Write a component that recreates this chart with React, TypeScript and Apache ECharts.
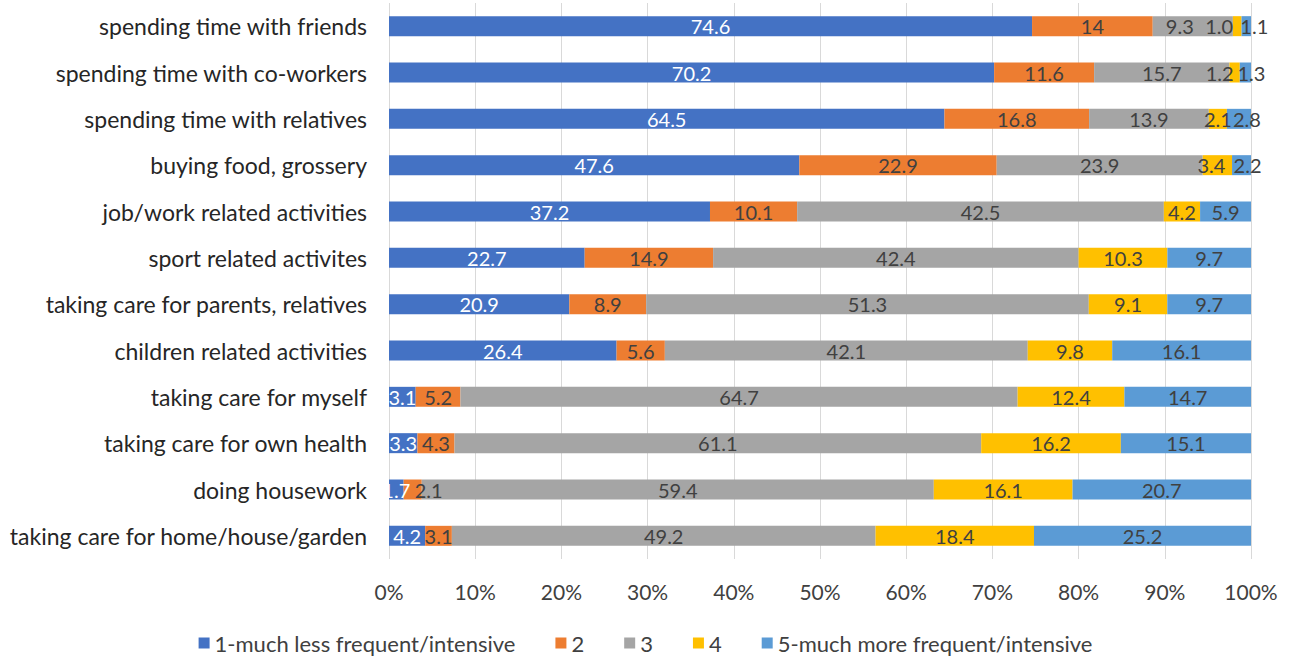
import React, { useEffect, useRef } from "react";
import * as echarts from "echarts";

const categories = [
  "spending time with friends",
  "spending time with co-workers",
  "spending time with relatives",
  "buying food, grossery",
  "job/work related activities",
  "sport related activites",
  "taking care for parents, relatives",
  "children related activities",
  "taking care for myself",
  "taking care for own health",
  "doing housework",
  "taking care for home/house/garden",
];

const seriesNames = [
  "1-much less frequent/intensive",
  "2",
  "3",
  "4",
  "5-much more frequent/intensive",
];

const s1 = [74.6, 70.2, 64.5, 47.6, 37.2, 22.7, 20.9, 26.4, 3.1, 3.3, 1.7, 4.2];
const s2 = [14, 11.6, 16.8, 22.9, 10.1, 14.9, 8.9, 5.6, 5.2, 4.3, 2.1, 3.1];
const s3 = [9.3, 15.7, 13.9, 23.9, 42.5, 42.4, 51.3, 42.1, 64.7, 61.1, 59.4, 49.2];
const s4 = [1.0, 1.2, 2.1, 3.4, 4.2, 10.3, 9.1, 9.8, 12.4, 16.2, 16.1, 18.4];
const s5 = [1.1, 1.3, 2.8, 2.2, 5.9, 9.7, 9.7, 16.1, 14.7, 15.1, 20.7, 25.2];

const colors = ["#4472C4", "#ED7D31", "#A5A5A5", "#FFC000", "#5B9BD5"];
const labelColors = ["#ffffff", "#404040", "#404040", "#404040", "#404040"];

// label nudges (px) for crowded small segments: "series-row" -> dx
const labelNudge: Record<string, number> = {
  "2-0": -13,
  "3-0": -18,
  "4-0": 8,
  "3-1": -15,
  "4-1": 6,
  "4-2": 8,
  "3-3": -6,
  "4-3": 6,
  "1-10": 16,
};

const FONT = "Lato, 'Noto Sans', sans-serif";

export default function App() {
  const ref = useRef<HTMLDivElement>(null);
  useEffect(() => {
    document.body.style.margin = "0";
    if (!ref.current) return;
    const chart = echarts.init(ref.current, undefined, { renderer: "svg" });
    const all = [s1, s2, s3, s4, s5];
    const totals = categories.map((_, i) => all.reduce((a, s) => a + s[i], 0));
    const series = all.map((arr, k) => ({
      name: seriesNames[k],
      type: "bar",
      stack: "total",
      barWidth: 20,
      itemStyle: { color: colors[k] },
      data: arr.map((v, i) => {
        const dx = labelNudge[`${k}-${i}`];
        const item: any = { value: (v / totals[i]) * 100, raw: v };
        if (dx) item.label = { offset: [dx, 0] };
        return item;
      }),
      label: {
        show: true,
        position: "inside",
        color: labelColors[k],
        fontFamily: FONT,
        fontSize: 20,
        formatter: (p: any) => {
          const r = p.data.raw;
          return k === 1 && r === 14 ? "14" : r.toFixed(1);
        },
      },
    }));
    chart.setOption({
      animation: false,
      textStyle: { fontFamily: FONT },
      grid: { left: 389, right: 40, top: 3, bottom: 102, containLabel: false },
      legend: {
        bottom: 2,
        left: "center",
        itemWidth: 11,
        itemHeight: 11,
        itemGap: 40,
        icon: "rect",
        textStyle: { fontSize: 22, color: "#404040", fontFamily: FONT },
        data: seriesNames,
      },
      xAxis: {
        type: "value",
        min: 0,
        max: 100,
        interval: 10,
        axisLabel: {
          formatter: "{value}%",
          fontSize: 21,
          color: "#404040",
          margin: 22,
          fontFamily: FONT,
        },
        axisLine: { show: false },
        axisTick: { show: false },
        splitLine: { show: true, lineStyle: { color: "#D9D9D9", width: 1 } },
      },
      yAxis: {
        type: "category",
        inverse: true,
        data: categories,
        axisLabel: { fontSize: 23, color: "#262626", margin: 22, fontFamily: FONT },
        axisLine: { show: false },
        axisTick: { show: false },
      },
      series,
    });
    return () => chart.dispose();
  }, []);
  return <div ref={ref} style={{ width: 1291, height: 661 }} />;
}
